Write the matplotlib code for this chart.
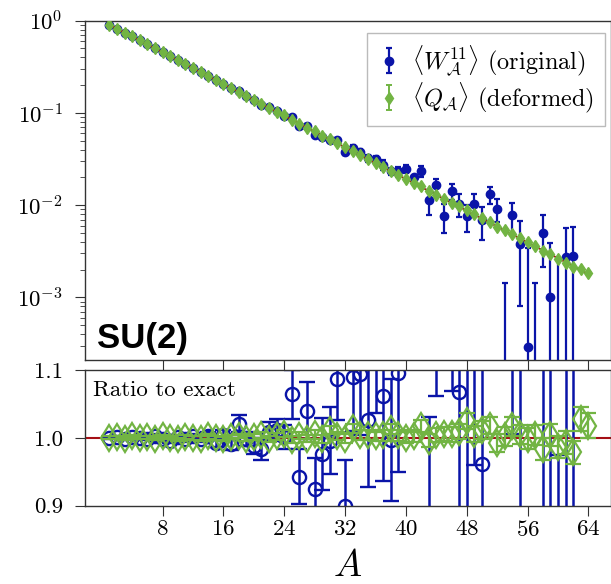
import numpy as np
import matplotlib.pyplot as plt

# plaquette-area axis
A_exact = list(range(1, 65))
A_orig = list(range(1, 63))

# exact Wilson-loop expectation value
exact = [0.9059, 0.8207, 0.7434, 0.6735, 0.6101, 0.5527, 0.5007, 0.4536,
         0.4109, 0.3722, 0.3372, 0.3055, 0.2767, 0.2507, 0.2271, 0.2057,
         0.1864, 0.1688, 0.1529, 0.1385, 0.1255, 0.1137, 0.1030, 0.09330,
         0.08452, 0.07657, 0.06936, 0.06284, 0.05692, 0.05157, 0.04671, 0.04232,
         0.03834, 0.03473, 0.03146, 0.02850, 0.02582, 0.02339, 0.02119, 0.01920,
         0.01739, 0.01575, 0.01427, 0.01293, 0.01171, 0.01061, 0.009611, 0.008707,
         0.007887, 0.007145, 0.006473, 0.005864, 0.005312, 0.004812, 0.004359, 0.003949,
         0.003578, 0.003241, 0.002936, 0.002660, 0.002410, 0.002183, 0.001977, 0.001791]

# original observable, ratio to exact
ratio_orig = [1.000, 1.001, 0.999, 1.001, 1.000, 0.999, 1.002, 0.998,
              0.996, 1.001, 0.998, 1.002, 0.999, 1.003, 0.993, 1.004,
              0.991, 1.021, 0.998, 0.988, 0.983, 1.009, 1.012, 1.001,
              1.064, 0.943, 1.040, 0.925, 0.976, 0.996, 1.087, 0.899,
              1.090, 1.094, 1.027, 1.117, 1.062, 0.997, 1.095, 1.29,
              1.15, 1.48, 0.79, 1.266, 0.651, 1.339, 1.067, 0.876,
              1.316, 0.962, 2.02, 1.56, -0.47, 1.61, 0.864, 0.073,
              -0.42, 1.527, 0.346, 0.038, 1.149, 1.29]
ratio_orig_err = [0.001, 0.001, 0.002, 0.002, 0.002, 0.002, 0.003, 0.003,
                  0.003, 0.003, 0.004, 0.004, 0.005, 0.006, 0.007, 0.008,
                  0.009, 0.012, 0.010, 0.012, 0.015, 0.014, 0.016, 0.018,
                  0.036, 0.040, 0.042, 0.045, 0.053, 0.050, 0.060, 0.069,
                  0.080, 0.090, 0.100, 0.080, 0.126, 0.090, 0.145, 0.12,
                  0.04, 0.20, 0.24, 0.204, 0.22, 0.27, 0.30, 0.29,
                  0.356, 0.38, 0.42, 0.44, 0.74, 0.605, 0.677, 0.79,
                  0.82, 0.86, 0.97, 0.936, 1.21, 1.39]

# deformed observable, ratio to exact
ratio_def = [1.000, 1.001, 0.999, 1.002, 1.000, 1.001, 0.999, 1.002,
             1.000, 0.998, 1.001, 1.000, 0.999, 1.002, 1.000, 0.998,
             1.001, 1.003, 0.999, 1.001, 1.004, 0.998, 1.002, 1.006,
             0.997, 1.003, 0.999, 1.005, 0.998, 1.012, 1.003, 0.999,
             1.014, 1.004, 1.004, 1.002, 1.004, 1.013, 1.004, 1.000,
             1.003, 1.018, 0.996, 1.004, 1.006, 1.005, 1.009, 1.025,
             1.006, 1.012, 1.018, 0.992, 1.002, 1.017, 1.005, 0.999,
             1.004, 0.984, 1.004, 0.986, 0.993, 0.979, 1.028, 1.018]
ratio_def_err = [0.002, 0.002, 0.002, 0.002, 0.002, 0.002, 0.002, 0.002,
                 0.002, 0.002, 0.003, 0.003, 0.003, 0.003, 0.003, 0.003,
                 0.003, 0.003, 0.003, 0.004, 0.004, 0.004, 0.005, 0.005,
                 0.005, 0.005, 0.005, 0.006, 0.006, 0.006, 0.006, 0.007,
                 0.007, 0.007, 0.007, 0.007, 0.008, 0.008, 0.008, 0.008,
                 0.009, 0.009, 0.010, 0.010, 0.010, 0.011, 0.011, 0.012,
                 0.012, 0.013, 0.013, 0.013, 0.014, 0.014, 0.014, 0.015,
                 0.015, 0.016, 0.016, 0.016, 0.017, 0.017, 0.018, 0.018]

BLUE = '#0a14a8'
GREEN = '#72b443'
RED = '#a50f15'
SPINE = '#333333'

plt.rcParams.update({
    'font.family': 'serif',
    'font.serif': ['cmr10'],
    'mathtext.fontset': 'cm',
    'axes.formatter.use_mathtext': True,
    'axes.unicode_minus': False,
    'font.size': 16.5,
    'axes.edgecolor': SPINE,
    'axes.linewidth': 1.0,
    'xtick.direction': 'out',
    'ytick.direction': 'out',
    'xtick.major.size': 7,
    'ytick.major.size': 7,
    'ytick.minor.size': 3.5,
    'xtick.color': SPINE,
    'ytick.color': SPINE,
    'xtick.labelcolor': 'black',
    'ytick.labelcolor': 'black',
})

exact_a = np.array(exact)
orig_val = exact_a[:len(A_orig)] * np.array(ratio_orig)
orig_err = exact_a[:len(A_orig)] * np.array(ratio_orig_err)
def_val = exact_a * np.array(ratio_def)
def_err = exact_a * np.array(ratio_def_err)

W, H = 611, 584
left, right = 85 / W, 610.5 / W
fig = plt.figure(figsize=(W / 100, H / 100), dpi=100)
ax1 = fig.add_axes([left, 1 - 360 / H, right - left, (360 - 20.7) / H])
ax2 = fig.add_axes([left, 1 - 505.7 / H, right - left, (505.7 - 370) / H])

# top panel: absolute values
ax1.plot(A_exact, exact, color=RED, lw=1.3, zorder=2)
h1 = ax1.errorbar(A_orig, orig_val, yerr=orig_err, fmt='o', color=BLUE, ms=6,
                  elinewidth=1.6, capsize=2.5, capthick=1.6, zorder=1,
                  label=r'$\langle W^{11}_{\mathcal{A}}\rangle$ (original)')
h2 = ax1.errorbar(A_exact, def_val, yerr=def_err, fmt='d', color=GREEN, ms=6.5,
                  elinewidth=1.4, capsize=2.5, capthick=1.4, zorder=3,
                  label=r'$\langle Q_{\mathcal{A}}\rangle$ (deformed)')
ax1.set_yscale('log')
ax1.set_ylim(2.1e-4, 1.0)
ax1.set_xlim(-2.2, 66.9)
ax1.tick_params(axis='x', labelbottom=False)
ax1.tick_params(axis='y', pad=9)
ax1.set_xticks([8, 16, 24, 32, 40, 48, 56, 64])
leg = ax1.legend(handles=[h1, h2], loc='upper right',
                 bbox_to_anchor=(605 / W, 1 - 32.7 / H),
                 bbox_transform=fig.transFigure, borderaxespad=0,
                 fancybox=False, edgecolor='#bbbbbb', framealpha=1,
                 handlelength=0.9, handletextpad=0.5, borderpad=0.45,
                 labelspacing=0.1, fontsize=17.5)
leg.get_frame().set_linewidth(1.0)
ax1.text(0.023, 0.035, 'SU(2)', transform=ax1.transAxes, family='Liberation Sans',
         fontweight='bold', fontsize=25, va='baseline', ha='left')

# bottom panel: ratio to exact
ax2.axhline(1.0, color=RED, lw=1.5, zorder=1)
ax2.errorbar(A_orig, ratio_orig, yerr=ratio_orig_err, fmt='o', color=BLUE,
             mfc='none', ms=9.5, mew=1.7, elinewidth=1.8, capsize=5.5,
             capthick=1.8, zorder=2)
ax2.errorbar(A_exact, ratio_def, yerr=ratio_def_err, fmt='d', color=GREEN,
             mfc='none', ms=13, mew=1.6, elinewidth=1.6, capsize=6,
             capthick=1.6, zorder=3)
ax2.set_ylim(0.9, 1.1)
ax2.set_xlim(-2.2, 66.9)
ax2.set_yticks([0.9, 1.0, 1.1])
ax2.set_yticklabels(['0.9', '1.0', '1.1'])
ax2.set_xticks([8, 16, 24, 32, 40, 48, 56, 64])
ax2.tick_params(axis='y', pad=9)
ax2.tick_params(axis='x', pad=3)
ax2.text(0.0147, 0.81, 'Ratio to exact', transform=ax2.transAxes,
         va='baseline', ha='left')
ax2.set_xlabel('$A$', fontsize=27, labelpad=7)

fig.savefig('out.png', dpi=100)
